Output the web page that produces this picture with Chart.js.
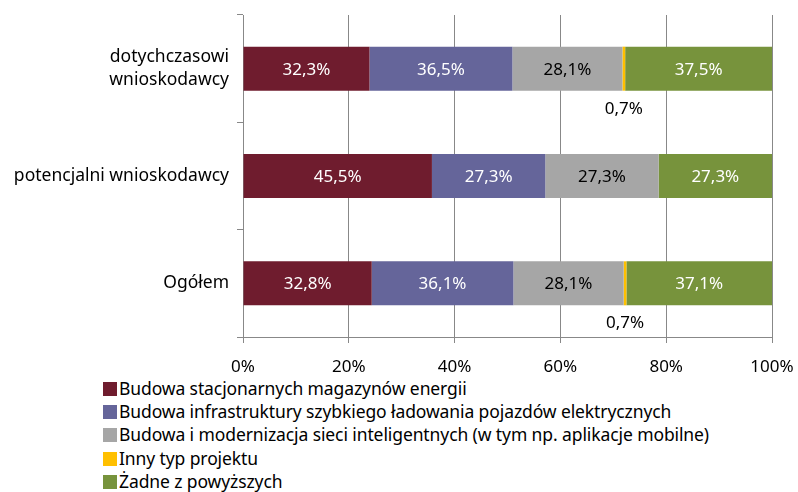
<!DOCTYPE html>
<html>
<head>
<meta charset="utf-8">
<script src="https://cdn.jsdelivr.net/npm/chart.js@4/dist/chart.umd.min.js"></script>
<style>
  html, body { margin: 0; padding: 0; background: #fff; }
  #wrap { position: relative; width: 798px; height: 492px; font-family: "Noto Sans", sans-serif; }
  #wrap canvas { position: absolute; left: 0; top: 0; }
  #legenda { position: absolute; left: 103px; top: 377px; font-size: 17.5px; color: #000; }
  #legenda div { height: 23.2px; line-height: 23.2px; white-space: nowrap; letter-spacing: -0.1px; }
  #legenda span { display: inline-block; width: 14px; height: 14px; margin-right: 2px; vertical-align: -1px; }
</style>
</head>
<body>
<div id="wrap">
  <canvas id="wykres" width="798" height="376"></canvas>
  <div id="legenda"></div>
</div>
<script>
const kategorie = [["dotychczasowi", "wnioskodawcy"], "potencjalni wnioskodawcy", "Ogółem"];
const serie = [
  "Budowa stacjonarnych magazynów energii",
  "Budowa infrastruktury szybkiego ładowania pojazdów elektrycznych",
  "Budowa i modernizacja sieci inteligentnych (w tym np. aplikacje mobilne)",
  "Inny typ projektu",
  "Żadne z powyższych"
];
const magazyny = [32.3, 45.5, 32.8];
const ladowanie = [36.5, 27.3, 36.1];
const sieci = [28.1, 27.3, 28.1];
const inny = [0.7, 0, 0.7];
const zadne = [37.5, 27.3, 37.1];
const kolory = ["#6f1c2e", "#65659a", "#a6a6a6", "#ffc000", "#77933c"];
const koloryTekstu = ["#fff", "#fff", "#000", "#000", "#fff"];
const osX = [0, 20, 40, 60, 80, 100];

const wartosci = [magazyny, ladowanie, sieci, inny, zadne];
const sumy = kategorie.map((_, j) => wartosci.reduce((s, w) => s + w[j], 0));

const fmt = v => v.toFixed(1).replace(".", ",") + "%";

const etykiety = {
  id: "etykiety",
  afterDatasetsDraw(chart) {
    const ctx = chart.ctx;
    ctx.save();
    ctx.font = '17px "Noto Sans"';
    ctx.textAlign = "center";
    ctx.textBaseline = "middle";
    chart.data.datasets.forEach((ds, i) => {
      chart.getDatasetMeta(i).data.forEach((el, j) => {
        const v = wartosci[i][j];
        if (!v) return;
        const x = (el.x + el.base) / 2;
        if (v < 5) {
          ctx.fillStyle = "#000";
          ctx.fillText(fmt(v), x, el.y + el.height / 2 + 18);
        } else {
          ctx.fillStyle = koloryTekstu[i];
          ctx.fillText(fmt(v), x, el.y + 1);
        }
      });
    });
    ctx.restore();
  }
};

new Chart(document.getElementById("wykres"), {
  type: "bar",
  data: {
    labels: kategorie,
    datasets: serie.map((nazwa, i) => ({
      label: nazwa,
      data: wartosci[i].map((v, j) => v / sumy[j] * 100),
      backgroundColor: kolory[i],
      borderWidth: 0,
      barPercentage: 0.41,
      categoryPercentage: 1
    }))
  },
  options: {
    indexAxis: "y",
    responsive: false,
    animation: false,
    layout: { padding: { top: 15, right: 26, left: 0, bottom: 0 } },
    plugins: { legend: { display: false }, tooltip: { enabled: false } },
    scales: {
      x: {
        stacked: true,
        min: 0,
        max: 100,
        afterBuildTicks: s => { s.ticks = osX.map(v => ({ value: v })); },
        afterFit: s => { s.height = 39; s.paddingLeft = 0; s.paddingRight = 0; },
        grid: { color: "#888888", tickLength: 6 },
        border: { color: "#888888" },
        ticks: { callback: v => v + "%", color: "#000", padding: 14, font: { family: "Noto Sans", size: 17 } }
      },
      y: {
        stacked: true,
        afterFit: s => { s.width = 243; s.paddingTop = 0; s.paddingBottom = 0; },
        grid: { offset: true, drawOnChartArea: false, color: "#888888", tickLength: 6 },
        border: { color: "#888888" },
        ticks: { color: "#000", padding: 8, font: { family: "Noto Sans", size: 17.5, lineHeight: 1.32 } }
      }
    }
  },
  plugins: [etykiety]
});

const legenda = document.getElementById("legenda");
serie.forEach((nazwa, i) => {
  const d = document.createElement("div");
  d.innerHTML = '<span style="background:' + kolory[i] + '"></span>' + nazwa;
  legenda.appendChild(d);
});
</script>
</body>
</html>
